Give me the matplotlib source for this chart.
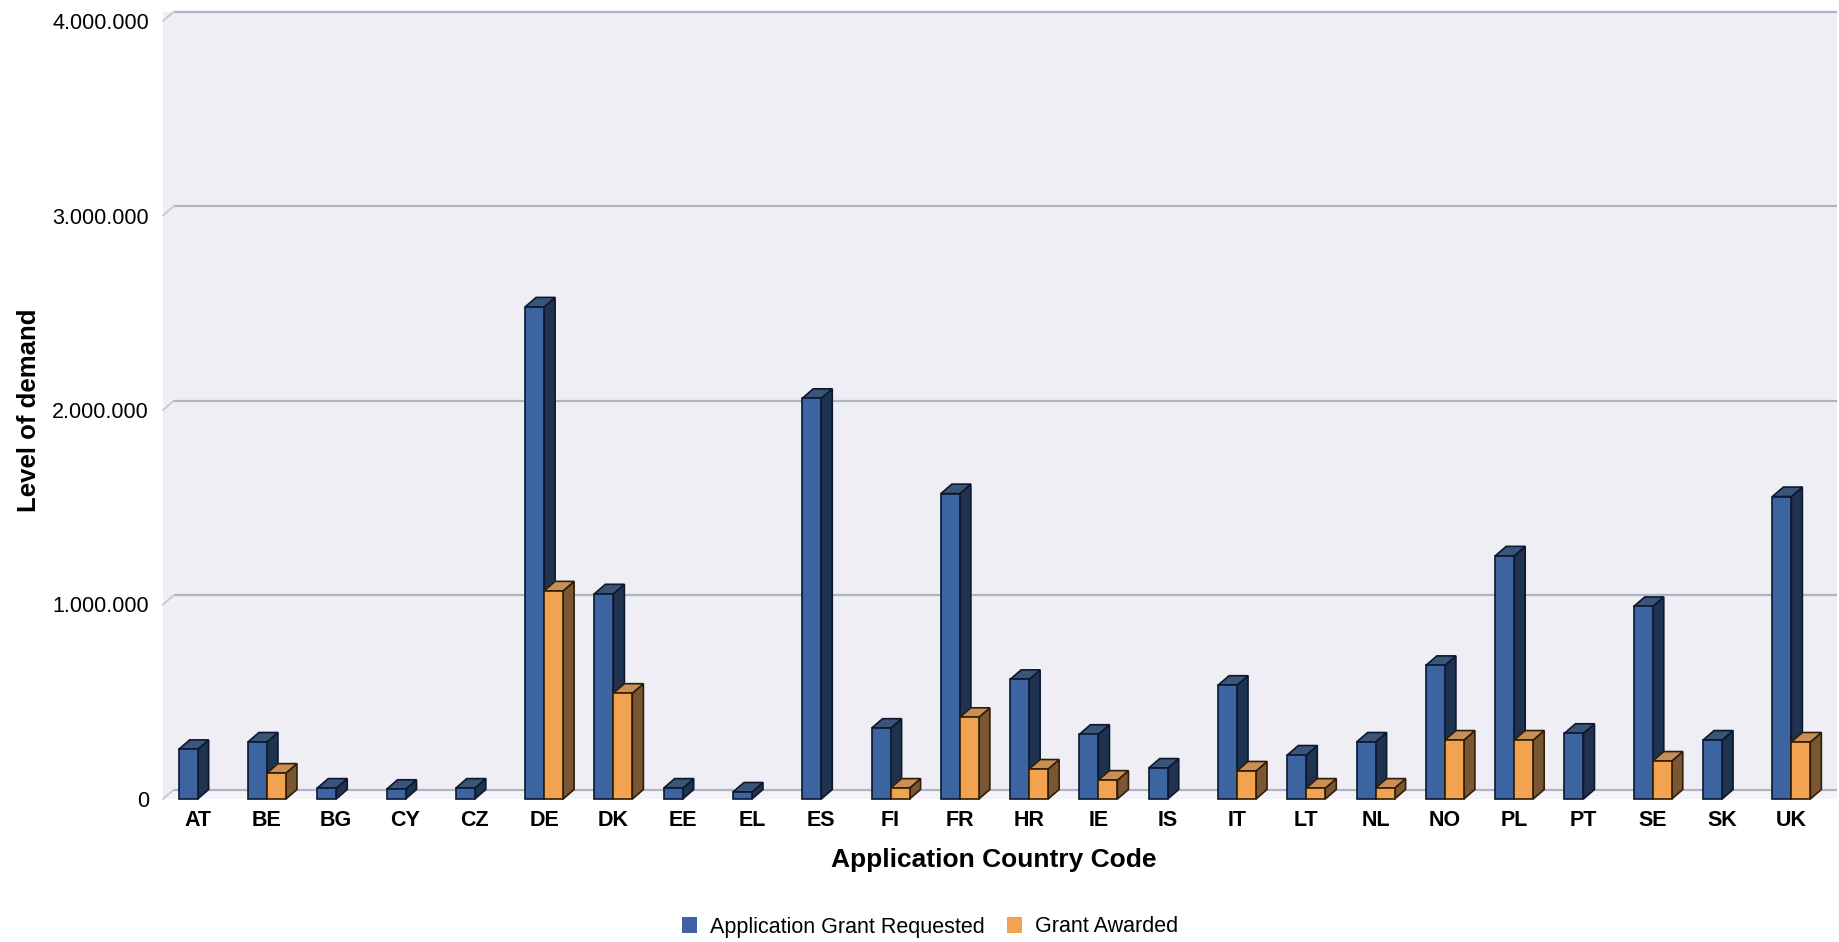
import matplotlib
matplotlib.use('Agg')
import matplotlib.pyplot as plt
from matplotlib.patches import Polygon, Rectangle, Patch
from matplotlib.ticker import FuncFormatter

plt.rcParams['font.family'] = ['Liberation Sans', 'DejaVu Sans']

categories = ['AT', 'BE', 'BG', 'CY', 'CZ', 'DE', 'DK', 'EE', 'EL', 'ES', 'FI', 'FR',
              'HR', 'IE', 'IS', 'IT', 'LT', 'NL', 'NO', 'PL', 'PT', 'SE', 'SK', 'UK']
requested = [255000, 293000, 56000, 50000, 56000, 2530000, 1055000, 56000, 36000, 2060000,
             364000, 1570000, 615000, 333000, 159000, 585000, 226000, 293000, 687000,
             1250000, 338000, 990000, 303000, 1555000]
awarded = [0, 133000, 0, 0, 0, 1070000, 544000, 0, 0, 0, 56000, 420000, 154000, 97000, 0,
           144000, 56000, 56000, 303000, 303000, 0, 195000, 0, 293000]
y_ticks = [0, 1000000, 2000000, 3000000, 4000000]

# colours: front, side, top, edge
blue = ('#3b64a0', '#1f3350', '#3b5577', '#0b1830')
orange = ('#f2a34f', '#7b5632', '#c98f55', '#2e1d0a')

fig = plt.figure(figsize=(18.39, 9.42), dpi=100)
fig.patch.set_facecolor('white')
ax = fig.add_axes([163 / 1839, 143 / 942, 1663 / 1839, 778 / 942])
ax.set_facecolor('none')
ax.set_xlim(-0.5, 23.5)
ax.set_ylim(0, 4000000)

# depth offsets in data units
dx = 11 / 69.3
dy = 9.5 / 194.5 * 1000000
w = 19 / 69.3

# back wall
ax.add_patch(Rectangle((-0.5, 0), 24 + dx, 4000000 + dy, facecolor='#eeeef4',
                       edgecolor='none', clip_on=False, zorder=0))
# floor
ax.add_patch(Polygon([(-0.5, 0), (23.5 + dx, 0), (23.5 + dx, dy), (-0.5 + dx, dy)],
                     closed=True, facecolor='#f4f4f8', edgecolor='none',
                     clip_on=False, zorder=0.5))
# grid on back wall
for v in y_ticks:
    ax.plot([-0.5 + dx, 23.5 + dx], [v + dy, v + dy], color='#b2b2c6', lw=1.6,
            clip_on=False, zorder=1, solid_capstyle='butt')
    ax.plot([-0.5, -0.5 + dx], [v, v + dy], color='#c4c4d2', lw=1.2,
            clip_on=False, zorder=1)


def bar3d(x0, h, cols):
    front, side, top, edge = cols
    ax.add_patch(Polygon([(x0 + w, 0), (x0 + w + dx, dy), (x0 + w + dx, h + dy), (x0 + w, h)],
                         closed=True, facecolor=side, edgecolor=edge, lw=1.2,
                         clip_on=False, zorder=3))
    ax.add_patch(Polygon([(x0, h), (x0 + w, h), (x0 + w + dx, h + dy), (x0 + dx, h + dy)],
                         closed=True, facecolor=top, edgecolor=edge, lw=1.2,
                         clip_on=False, zorder=3))
    ax.add_patch(Rectangle((x0, 0), w, h, facecolor=front, edgecolor=edge, lw=1.2,
                           clip_on=False, zorder=3))


for i in range(len(categories)):
    if requested[i] > 0:
        bar3d(i - w, requested[i], blue)
    if awarded[i] > 0:
        bar3d(i, awarded[i], orange)

for s in ax.spines.values():
    s.set_visible(False)

ax.set_xticks(range(len(categories)))
ax.set_xticklabels(categories, fontsize=15.5, fontweight='bold')
ax.set_yticks(y_ticks)
ax.yaxis.set_major_formatter(FuncFormatter(lambda v, p: f"{int(v):,}".replace(',', '.')))
ax.tick_params(axis='y', length=0, pad=10, labelsize=15.5)
ax.tick_params(axis='x', length=0, pad=8)

fig.text(29 / 1839, 1 - 410 / 942, 'Level of demand', rotation=90, fontsize=18.5,
         fontweight='bold', ha='center', va='center')
fig.text(994 / 1839, 1 - 860 / 942, 'Application Country Code', fontsize=19,
         fontweight='bold', ha='center', va='center')

handles = [Patch(facecolor=blue[0], edgecolor='none', label='Application Grant Requested'),
           Patch(facecolor=orange[0], edgecolor='none', label='Grant Awarded')]
fig.legend(handles=handles, loc='center', bbox_to_anchor=(930 / 1839, 1 - 927 / 942),
           ncol=2, frameon=False, fontsize=15.5, handlelength=0.7, handleheight=0.7,
           handletextpad=0.6, columnspacing=1.0)

fig.savefig('out.png', dpi=100, facecolor='white')
